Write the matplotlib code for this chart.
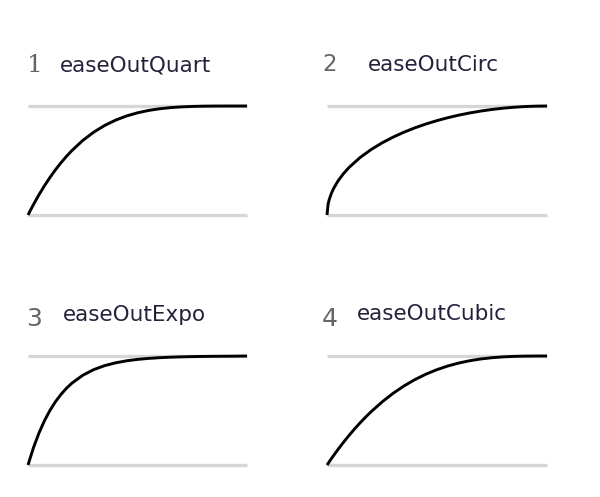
import matplotlib
matplotlib.use('Agg')
import matplotlib.pyplot as plt

# easing curves, values (t = progress, y = output)
t_std = [0, 0.025, 0.05, 0.075, 0.10, 0.125, 0.15, 0.175, 0.20, 0.25, 0.30,
         0.35, 0.40, 0.45, 0.50, 0.55, 0.60, 0.65, 0.70, 0.75, 0.80, 0.85,
         0.90, 0.95, 1.0]

quart_y = [0, 0.0963, 0.1855, 0.2679, 0.3439, 0.4138, 0.4780, 0.5368, 0.5904,
           0.6836, 0.7599, 0.8215, 0.8704, 0.9085, 0.9375, 0.9590, 0.9744,
           0.9850, 0.9919, 0.9961, 0.9984, 0.9995, 0.9999, 1.0, 1.0]

circ_t = [0, 0.005, 0.01, 0.02, 0.03, 0.05, 0.075, 0.10, 0.15, 0.20, 0.25,
          0.30, 0.35, 0.40, 0.45, 0.50, 0.55, 0.60, 0.65, 0.70, 0.75, 0.80,
          0.85, 0.90, 0.95, 1.0]
circ_y = [0, 0.0999, 0.1411, 0.1990, 0.2431, 0.3122, 0.3800, 0.4359, 0.5268,
          0.6000, 0.6614, 0.7141, 0.7599, 0.8000, 0.8352, 0.8660, 0.8930,
          0.9165, 0.9367, 0.9539, 0.9682, 0.9798, 0.9887, 0.9950, 0.9987, 1.0]

expo_y = [0, 0.1591, 0.2929, 0.4054, 0.5, 0.5796, 0.6464, 0.7027, 0.75,
          0.8232, 0.875, 0.9116, 0.9375, 0.9558, 0.9688, 0.9779, 0.9844,
          0.9890, 0.9922, 0.9945, 0.9961, 0.9972, 0.9980, 0.9986, 1.0]

cubic_y = [0, 0.0731, 0.1426, 0.2085, 0.271, 0.3301, 0.3859, 0.4385, 0.488,
           0.5781, 0.657, 0.7254, 0.784, 0.8336, 0.875, 0.9089, 0.936, 0.9571,
           0.973, 0.9844, 0.992, 0.9966, 0.999, 0.9999, 1.0]

numbers = ['1', '2', '3', '4']
names = ['easeOutQuart', 'easeOutCirc', 'easeOutExpo', 'easeOutCubic']
xs = [t_std, circ_t, t_std, t_std]
ys = [quart_y, circ_y, expo_y, cubic_y]

W, H = 600, 497
fig = plt.figure(figsize=(6, 4.97), dpi=100)

# panel boxes in pixels: left, right, top line, bottom line
boxes = [(28, 247, 106, 215), (327, 547, 106, 215),
         (28, 247, 356, 465), (327, 547, 356, 465)]
# title positions in pixels: number x, number baseline, name x, name baseline
titles = [(27, 72, 60, 71), (322, 71, 368, 71),
          (26, 326, 63, 321), (322, 326, 357, 320)]
num_fonts = ['DejaVu Serif', 'DejaVu Sans', 'DejaVu Sans', 'DejaVu Sans']
num_sizes = [18, 16.5, 18, 18]

for i in range(4):
    l, r, top, bot = boxes[i]
    ax = fig.add_axes([l / W, (H - bot) / H, (r - l) / W, (bot - top) / H])
    for yy in (0, 1):
        ax.axhline(yy, color='#d6d6d6', lw=2.4, zorder=1, clip_on=False,
                   solid_capstyle='butt')
    ax.plot(xs[i], ys[i], color='black', lw=2.1, zorder=3,
            solid_joinstyle='round', solid_capstyle='butt', clip_on=False)
    ax.set_xlim(0, 1)
    ax.set_ylim(0, 1)
    ax.axis('off')

    nx, nb, tx, tb = titles[i]
    fig.text(nx / W, (H - nb) / H, numbers[i], fontsize=num_sizes[i],
             family=num_fonts[i], color='#666666', va='baseline')
    fig.text(tx / W, (H - tb) / H, names[i], fontsize=15.5,
             color='#22223a', va='baseline')

fig.savefig('out.png', dpi=100, facecolor='white')
